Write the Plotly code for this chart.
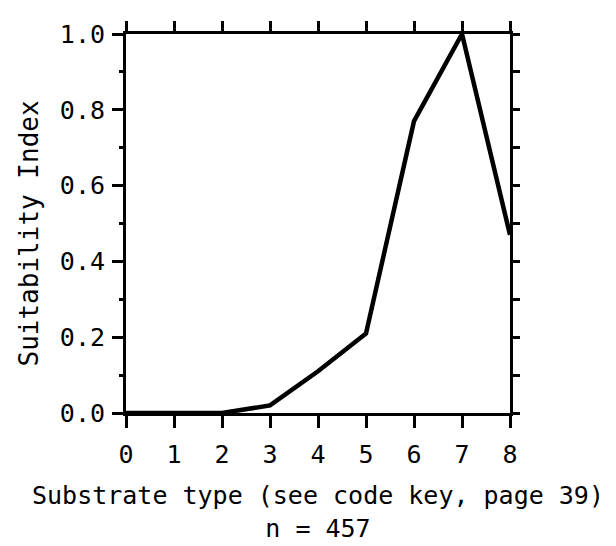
import plotly.graph_objects as go

# Substrate type codes and suitability index
substrate = [0, 1, 2, 3, 4, 5, 6, 7, 8]
suitability = [0.0, 0.0, 0.0, 0.02, 0.11, 0.21, 0.77, 1.0, 0.47]

x_ticks = [0, 1, 2, 3, 4, 5, 6, 7, 8]
y_ticks = [0.0, 0.2, 0.4, 0.6, 0.8, 1.0]
y_labels = ["0.0", "0.2", "0.4", "0.6", "0.8", "1.0"]

FONT = "DejaVu Sans Mono, Liberation Mono, monospace"

fig = go.Figure()

fig.add_trace(go.Scatter(
    x=substrate, y=suitability,
    mode="lines",
    line=dict(color="black", width=4.5),
    cliponaxis=False,
    showlegend=False
))

axis_common = dict(showgrid=False, zeroline=False, showline=True,
                   linecolor="black", linewidth=3, ticks="outside",
                   tickcolor="black", tickwidth=3)

fig.update_layout(
    width=616, height=546,
    plot_bgcolor="white", paper_bgcolor="white",
    margin=dict(l=118, r=114, t=17, b=141),
    font=dict(family=FONT, size=25, color="black"),
    xaxis=dict(range=[0, 8], tickvals=x_ticks, ticklen=12, ticklabelstandoff=5,
               **axis_common),
    xaxis2=dict(range=[0, 8], overlaying="x", side="top", tickvals=x_ticks,
                showticklabels=False, ticklen=10, matches="x", **axis_common),
    yaxis=dict(range=[0, 1], tickvals=y_ticks, ticktext=y_labels, ticklen=11,
               ticklabelstandoff=2,
               minor=dict(tickvals=[0.1, 0.3, 0.5, 0.7, 0.9], ticks="outside",
                          ticklen=4, tickwidth=3, tickcolor="black"),
               **axis_common),
    yaxis2=dict(range=[0, 1], overlaying="y", side="right", dtick=0.1,
                showticklabels=False, ticklen=7, **axis_common),
)

# axis titles placed as annotations to match the reference positions
fig.add_annotation(text="Substrate type (see code key, page 39)<br>n = 457",
                   xref="paper", yref="paper", x=0.5, y=0, xanchor="center",
                   yanchor="top", yshift=-66, showarrow=False,
                   font=dict(size=25))
fig.add_annotation(text="Suitability Index", textangle=-90,
                   xref="paper", yref="paper", x=0, y=0.5, xanchor="center",
                   yanchor="middle", xshift=-98, yshift=-10, showarrow=False,
                   font=dict(size=26))

# invisible trace to activate the mirrored axes
fig.add_trace(go.Scatter(x=[0], y=[0], xaxis="x2", yaxis="y2", mode="markers",
                         marker=dict(opacity=0), showlegend=False, hoverinfo="skip"))

fig.write_html("out.html")
